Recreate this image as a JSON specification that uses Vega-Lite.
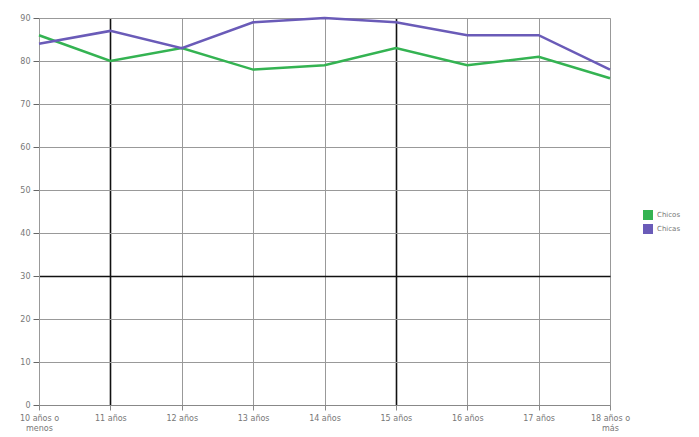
{
  "$schema": "https://vega.github.io/schema/vega-lite/v6.json",
  "autosize": {"type": "none"},
  "padding": {"left": 39, "top": 18, "right": 89, "bottom": 32},
  "width": 571,
  "height": 387,
  "background": "white",
  "data": {
    "values": [
      {"edad": "10 años o menos", "grupo": "Chicos", "valor": 86},
      {"edad": "11 años", "grupo": "Chicos", "valor": 80},
      {"edad": "12 años", "grupo": "Chicos", "valor": 83},
      {"edad": "13 años", "grupo": "Chicos", "valor": 78},
      {"edad": "14 años", "grupo": "Chicos", "valor": 79},
      {"edad": "15 años", "grupo": "Chicos", "valor": 83},
      {"edad": "16 años", "grupo": "Chicos", "valor": 79},
      {"edad": "17 años", "grupo": "Chicos", "valor": 81},
      {"edad": "18 años o más", "grupo": "Chicos", "valor": 76},
      {"edad": "10 años o menos", "grupo": "Chicas", "valor": 84},
      {"edad": "11 años", "grupo": "Chicas", "valor": 87},
      {"edad": "12 años", "grupo": "Chicas", "valor": 83},
      {"edad": "13 años", "grupo": "Chicas", "valor": 89},
      {"edad": "14 años", "grupo": "Chicas", "valor": 90},
      {"edad": "15 años", "grupo": "Chicas", "valor": 89},
      {"edad": "16 años", "grupo": "Chicas", "valor": 86},
      {"edad": "17 años", "grupo": "Chicas", "valor": 86},
      {"edad": "18 años o más", "grupo": "Chicas", "valor": 78}
    ]
  },
  "mark": {"type": "line", "strokeWidth": 2.5},
  "encoding": {
    "x": {
      "field": "edad",
      "type": "ordinal",
      "sort": null,
      "scale": {"type": "point", "padding": 0},
      "axis": {
        "title": null,
        "labelAngle": 0,
        "labelFont": "DejaVu Sans",
        "labelFontSize": 8,
        "labelColor": "#777",
        "labelAlign": "center",
        "labelPadding": 4,
        "labelExpr": "datum.label == '10 años o menos' ? ['10 años o', 'menos'] : datum.label == '18 años o más' ? ['18 años o', 'más'] : datum.label",
        "domainColor": "#888",
        "tickColor": "#888",
        "tickSize": 5,
        "grid": true,
        "gridColor": {"condition": {"test": "datum.label == '11 años' || datum.label == '15 años'", "value": "#111"}, "value": "#999"},
        "gridWidth": {"condition": {"test": "datum.label == '11 años' || datum.label == '15 años'", "value": 1.6}, "value": 1}
      }
    },
    "y": {
      "field": "valor",
      "type": "quantitative",
      "scale": {"domain": [0, 90], "nice": false},
      "axis": {
        "title": null,
        "values": [0, 10, 20, 30, 40, 50, 60, 70, 80, 90],
        "labelFont": "DejaVu Sans",
        "labelFontSize": 8,
        "labelColor": "#777",
        "labelPadding": 3,
        "domainColor": "#999",
        "tickColor": "#666",
        "tickSize": 6,
        "grid": true,
        "gridColor": {"condition": {"test": "datum.value == 30", "value": "#111"}, "value": "#999"},
        "gridWidth": {"condition": {"test": "datum.value == 30", "value": 1.4}, "value": 1}
      }
    },
    "color": {
      "field": "grupo",
      "type": "nominal",
      "scale": {"domain": ["Chicos", "Chicas"], "range": ["#34b352", "#6a5bb8"]},
      "legend": {
        "title": null,
        "orient": "none",
        "legendX": 604,
        "legendY": 192,
        "symbolType": "square",
        "symbolSize": 100,
        "labelFont": "DejaVu Sans",
        "labelFontSize": 7,
        "labelColor": "#777",
        "rowPadding": 4,
        "encode": {
          "symbols": {
            "update": {
              "fill": {"scale": "color", "field": "value"},
              "stroke": {"scale": "color", "field": "value"},
              "strokeWidth": {"value": 0},
              "opacity": {"value": 1}
            }
          }
        }
      }
    }
  }
}
